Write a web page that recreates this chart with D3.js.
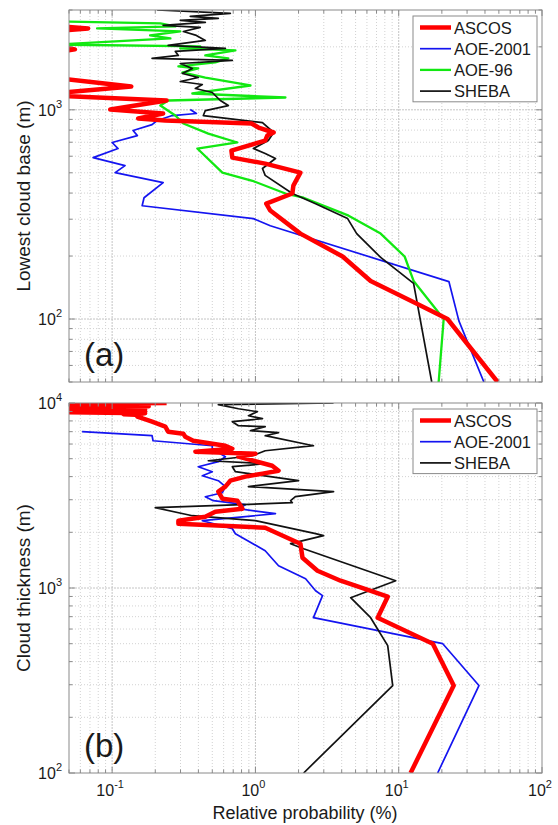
<!DOCTYPE html>
<html><head><meta charset="utf-8">
<script src="https://cdn.jsdelivr.net/npm/d3@7"></script>
<style>
body{margin:0;background:#fff}
text{font-family:"Liberation Sans",Arial,Helvetica,sans-serif;fill:#1a1a1a}
</style>
</head><body>
<svg id="c" width="558" height="825"></svg>
<script>
// ---------- data: [height (m), relative probability (%)] ----------
const xTickValues = [0.1, 1, 10, 100];
const xTickExps = ["-1", "0", "1", "2"];
const topYTickValues = [100, 1000];
const topYTickExps = ["2", "3"];
const botYTickValues = [100, 1000, 10000];
const botYTickExps = ["2", "3", "4"];
const xDomain = [0.05, 100];
const topYDomain = [50, 3000];
const botYDomain = [100, 10000];

const seriesNamesTop = ["ASCOS", "AOE-2001", "AOE-96", "SHEBA"];
const seriesNamesBot = ["ASCOS", "AOE-2001", "SHEBA"];

// (a) lowest cloud base
const ascosBase = [[3000,0.04],[2520,0.04],[2450,0.068],[2380,0.04],[2020,0.04],[1945,0.055],[1880,0.04],[1420,0.04],[1293,0.136],[1200,0.04],[1170,0.04],[1108,0.24],[1003,0.097],[960,0.227],[909,0.152],[889,0.235],[860,0.94],[823,1.05],[779,1.34],[753,1.21],[713,1.17],[638,0.68],[591,0.69],[553,1.17],[501,2.06],[434,1.84],[398,1.81],[356,1.19],[330,1.27],[256,2.06],[199,4.06],[152,6.37],[118,13.5],[100,21.9],[50,49]];
const aoe2001Base = [[1003,0.351],[960,0.387],[939,0.263],[889,0.206],[850,0.190],[796,0.140],[753,0.150],[698,0.100],[653,0.110],[591,0.0737],[541,0.123],[501,0.105],[449,0.227],[380,0.167],[348,0.162],[302,0.968],[279,1.27],[151,22.4],[98,26.3],[50,39.3]];
const aoe96Base = [[2650,0.04],[2587,0.217],[2504,0.276],[2449,0.0785],[2369,0.299],[2268,0.184],[2193,0.255],[2050,0.04],[2009,0.412],[1965,0.299],[1923,0.725],[1819,0.447],[1760,0.647],[1684,0.525],[1612,0.290],[1576,0.399],[1508,0.309],[1427,0.447],[1307,0.923],[1197,0.363],[1145,1.62],[1108,0.246],[1048,0.217],[939,0.276],[860,0.314],[770,0.469],[698,0.748],[653,0.393],[501,0.588],[458,0.953],[398,1.62],[380,2.17],[312,4.47],[256,7.48],[199,11.0],[152,12.7],[100,20.6],[50,19.0]];
const shebaBase = [[3000,0.206],[2890,0.668],[2795,0.351],[2734,0.551],[2675,0.299],[2617,0.447],[2531,0.227],[2476,0.412],[2369,0.314],[2268,0.387],[2146,0.447],[2031,0.246],[1965,0.617],[1901,0.276],[1819,0.290],[1760,0.190],[1722,0.690],[1665,0.299],[1576,0.363],[1492,0.309],[1427,0.399],[1366,0.299],[1321,0.426],[1264,0.381],[1210,0.500],[1108,0.569],[1048,0.647],[992,0.447],[939,0.433],[869,1.12],[779,1.34],[713,1.23],[653,0.968],[618,1.17],[585,1.38],[524,1.12],[486,1.17],[398,1.81],[356,2.63],[302,4.40],[256,5.09],[197,7.48],[148,12.7],[50,17.0]];

// (b) cloud thickness
const ascosThick = [[10000,0.24],[9900,0.04],[9800,0.18],[9700,0.04],[9600,0.18],[9500,0.04],[9400,0.17],[9300,0.06],[9200,0.17],[9100,0.04],[9000,0.17],[8900,0.05],[8800,0.17],[8700,0.12],[8600,0.16],[8433,0.150],[7925,0.190],[7447,0.235],[6998,0.246],[6824,0.314],[6577,0.324],[6253,0.368],[5875,0.617],[5662,0.690],[5456,0.381],[5321,1.0],[5128,0.761],[4582,1.31],[4305,1.45],[4150,1.12],[4000,0.851],[3802,0.668],[3532,0.617],[3316,0.551],[3039,0.588],[2964,0.748],[2683,0.811],[2585,0.525],[2429,0.447],[2311,0.290],[2226,0.290],[2118,1.17],[1736,2.06],[1458,2.13],[1240,2.71],[1095,3.93],[897,8.38],[691,7.13],[500,17.3],[297,24.2],[100,12.1]];
const aoe2001Thick = [[6998,0.0617],[6656,0.190],[6253,0.193],[5875,0.500],[5662,0.500],[5125,0.617],[4817,0.551],[4525,0.399],[4252,0.500],[4046,0.426],[3802,0.551],[3532,0.617],[3274,0.588],[3115,0.447],[2964,0.508],[2820,0.851],[2683,0.761],[2521,1.38],[2311,0.426],[2092,0.690],[1966,0.725],[1591,1.17],[1320,1.45],[1123,2.24],[967,2.63],[909,2.94],[691,2.54],[500,20.3],[297,36.3],[100,18.7]];
const shebaThick = [[10000,3.51],[9790,0.551],[9311,0.761],[8974,1.03],[8537,0.894],[8228,1.12],[7925,0.690],[7537,0.761],[7447,1.17],[7084,0.923],[6910,1.45],[6656,1.17],[5876,2.54],[5521,1.17],[5188,0.953],[4875,0.469],[4698,1.17],[4525,0.690],[4252,0.725],[3997,1.27],[3802,2.00],[3532,0.894],[3316,3.51],[3115,1.90],[2964,1.76],[2891,1.81],[2717,0.200],[2459,0.363],[2311,1.0],[1966,2.63],[1918,2.99],[1736,1.76],[1631,2.17],[1095,9.53],[886,4.62],[691,6.37],[488,8.38],[297,9.08],[100,2.17]];

// ---------- styles ----------
const styles = {
  "ASCOS":    {color:"#ff0000", width:4.5},
  "AOE-2001": {color:"#1414f0", width:1.7},
  "AOE-96":   {color:"#12e812", width:2.3},
  "SHEBA":    {color:"#111111", width:1.7}
};

const L = 69, R = 542;
const svg = d3.select("#c");
const defs = svg.append("defs");

function logTicks(dom) {
  const out = [];
  const e0 = Math.floor(Math.log10(dom[0]) + 1e-9), e1 = Math.ceil(Math.log10(dom[1]) - 1e-9);
  for (let e = e0; e <= e1; e++) {
    for (let m = 1; m <= 9; m++) {
      const v = +(m * Math.pow(10, e)).toPrecision(6);
      if (v >= dom[0] * 0.9999 && v <= dom[1] * 1.0001) out.push({v, major: m === 1});
    }
  }
  return out;
}

function supLabel(sel, exp) {
  sel.text("10");
  sel.append("tspan").attr("dy", -8).attr("font-size", 11).text(exp);
}

function panel(cfg) {
  const x = d3.scaleLog().domain(xDomain).range([L, R]);
  const y = d3.scaleLog().domain(cfg.yDomain).range([cfg.y1, cfg.y0]);
  const g = svg.append("g");
  const clipId = "clip" + cfg.id;
  defs.append("clipPath").attr("id", clipId).append("rect")
    .attr("x", L).attr("y", cfg.y0).attr("width", R - L).attr("height", cfg.y1 - cfg.y0);

  const xt = logTicks(xDomain), yt = logTicks(cfg.yDomain);
  // grid
  const grid = g.append("g");
  xt.forEach(t => {
    const px = x(t.v);
    if (px < L + 1 || px > R - 1) return;
    grid.append("line").attr("x1", px).attr("x2", px).attr("y1", cfg.y0).attr("y2", cfg.y1)
      .attr("stroke", t.major ? "#c4c4c4" : "#d2d2d2").attr("stroke-width", 1)
      .attr("stroke-dasharray", t.major ? "2,1" : "1,2");
  });
  yt.forEach(t => {
    const py = y(t.v);
    if (py < cfg.y0 + 1 || py > cfg.y1 - 1) return;
    grid.append("line").attr("x1", L).attr("x2", R).attr("y1", py).attr("y2", py)
      .attr("stroke", t.major ? "#c4c4c4" : "#d2d2d2").attr("stroke-width", 1)
      .attr("stroke-dasharray", t.major ? "2,1" : "1,2");
  });

  // series
  const line = d3.line().x(d => x(d[1])).y(d => y(d[0]));
  const lg = g.append("g").attr("clip-path", `url(#${clipId})`);
  cfg.drawOrder.forEach(name => {
    const s = styles[name];
    lg.append("path").datum(cfg.data[name]).attr("d", line)
      .attr("fill", "none").attr("stroke", s.color).attr("stroke-width", s.width)
      .attr("stroke-linejoin", "round").attr("stroke-linecap", "butt");
  });

  // frame
  g.append("rect").attr("x", L).attr("y", cfg.y0).attr("width", R - L).attr("height", cfg.y1 - cfg.y0)
    .attr("fill", "none").attr("stroke", "#8a8a8a").attr("stroke-width", 1);
  // ticks (inside, all sides)
  const tk = g.append("g").attr("stroke", "#8a8a8a").attr("stroke-width", 1);
  xt.forEach(t => {
    const px = x(t.v), len = t.major ? 6 : 3.5;
    tk.append("line").attr("x1", px).attr("x2", px).attr("y1", cfg.y1).attr("y2", cfg.y1 - len);
    tk.append("line").attr("x1", px).attr("x2", px).attr("y1", cfg.y0).attr("y2", cfg.y0 + len);
  });
  yt.forEach(t => {
    const py = y(t.v), len = t.major ? 6 : 3.5;
    tk.append("line").attr("x1", L).attr("x2", L + len).attr("y1", py).attr("y2", py);
    tk.append("line").attr("x1", R).attr("x2", R - len).attr("y1", py).attr("y2", py);
  });

  // y tick labels
  cfg.yTickValues.forEach((v, i) => {
    const t = g.append("text").attr("x", L - 7).attr("y", y(v) + 6)
      .attr("text-anchor", "end").attr("font-size", 16);
    supLabel(t, cfg.yTickExps[i]);
  });
  // x tick labels
  if (cfg.xLabels) {
    xTickValues.forEach((v, i) => {
      const t = g.append("text").attr("x", x(v) - 2).attr("y", cfg.y1 + 23)
        .attr("text-anchor", "middle").attr("font-size", 16);
      supLabel(t, xTickExps[i]);
    });
  }
  // y axis label
  g.append("text").attr("transform", `translate(30,${(cfg.y0 + cfg.y1) / 2}) rotate(-90)`)
    .attr("text-anchor", "middle").attr("font-size", 19).text(cfg.yLabel);
  // panel tag
  g.append("text").attr("x", 84).attr("y", cfg.y1 - 16).attr("font-size", 33).text(cfg.tag);

  // legend
  const names = cfg.legend;
  const lx = 413, lw = 124, rowH = 21.2;
  const lgd = g.append("g");
  lgd.append("rect").attr("x", lx).attr("y", cfg.y0 + 6).attr("width", lw).attr("height", names.length * rowH + 1)
    .attr("fill", "#fff").attr("stroke", "#8a8a8a").attr("stroke-width", 1);
  names.forEach((n, i) => {
    const cy = cfg.y0 + 17.5 + i * rowH;
    lgd.append("line").attr("x1", lx + 7).attr("x2", lx + 38).attr("y1", cy).attr("y2", cy)
      .attr("stroke", styles[n].color).attr("stroke-width", styles[n].width);
    lgd.append("text").attr("x", lx + 41).attr("y", cy + 6).attr("font-size", 16.5).text(n);
  });
}

panel({
  id: "a", y0: 10, y1: 382, yDomain: topYDomain,
  yTickValues: topYTickValues, yTickExps: topYTickExps, xLabels: false,
  yLabel: "Lowest cloud base (m)", tag: "(a)",
  data: {"ASCOS": ascosBase, "AOE-2001": aoe2001Base, "AOE-96": aoe96Base, "SHEBA": shebaBase},
  drawOrder: ["AOE-2001", "AOE-96", "SHEBA", "ASCOS"],
  legend: seriesNamesTop
});
panel({
  id: "b", y0: 403, y1: 773, yDomain: botYDomain,
  yTickValues: botYTickValues, yTickExps: botYTickExps, xLabels: true,
  yLabel: "Cloud thickness (m)", tag: "(b)",
  data: {"ASCOS": ascosThick, "AOE-2001": aoe2001Thick, "SHEBA": shebaThick},
  drawOrder: ["AOE-2001", "SHEBA", "ASCOS"],
  legend: seriesNamesBot
});

svg.append("text").attr("x", 305).attr("y", 819).attr("text-anchor", "middle")
  .attr("font-size", 18).text("Relative probability (%)");
</script>
</body></html>
